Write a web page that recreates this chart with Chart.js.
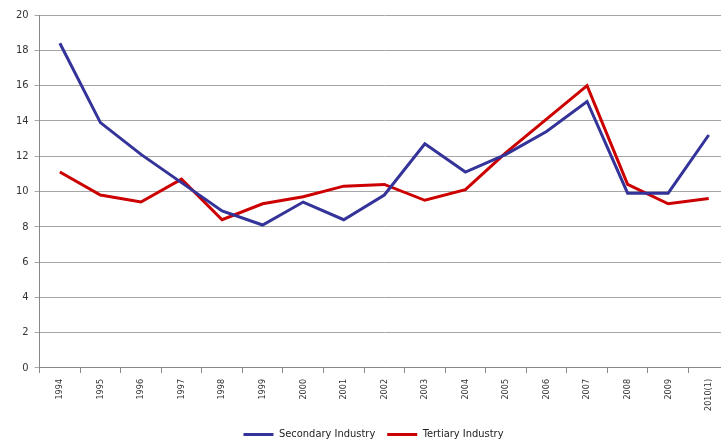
<!DOCTYPE html>
<html lang="en">
<head>
    <meta charset="UTF-8">
    <title>Secondary and Tertiary Industry</title>
    <style>
        body {
            margin: 0;
            padding: 0;
            background: #fff;
            overflow: hidden;
        }

        /* a bit wider than the window: the original is cut off on the right */
        #chartContainer {
            width: 729px;
            height: 443px;
        }
    </style>
</head>
<body>
    <div id="chartContainer">
        <canvas id="lineChart"></canvas>
    </div>

    <script src="https://cdn.jsdelivr.net/npm/chart.js"></script>
    <script>
        const years = ["1994", "1995", "1996", "1997", "1998", "1999", "2000", "2001", "2002",
            "2003", "2004", "2005", "2006", "2007", "2008", "2009", "2010(1)"];
        const secondaryIndustry = [18.4, 13.9, 12.1, 10.5, 8.9, 8.1, 9.4, 8.4, 9.8,
            12.7, 11.1, 12.1, 13.4, 15.1, 9.9, 9.9, 13.2];
        const tertiaryIndustry = [11.1, 9.8, 9.4, 10.7, 8.4, 9.3, 9.7, 10.3, 10.4,
            9.5, 10.1, 12.2, 14.1, 16.0, 10.4, 9.3, 9.6];

        // narrow look of the original
        const fontFamily = "'DejaVu Sans Condensed', 'Liberation Sans Narrow', sans-serif";

        const ctx = document.getElementById('lineChart').getContext('2d');
        new Chart(ctx, {
            type: 'line',
            data: {
                labels: years,
                datasets: [
                    {
                        label: 'Secondary Industry',
                        data: secondaryIndustry,
                        borderColor: '#333399',
                        backgroundColor: '#333399',
                        borderWidth: 3,
                        pointRadius: 0,
                        tension: 0
                    },
                    {
                        label: 'Tertiary Industry',
                        data: tertiaryIndustry,
                        borderColor: '#cc0000',
                        backgroundColor: '#cc0000',
                        borderWidth: 3,
                        pointRadius: 0,
                        tension: 0
                    }
                ]
            },
            options: {
                responsive: true,
                maintainAspectRatio: false,
                animation: false,
                layout: {
                    padding: { left: 10, right: -8, top: 15, bottom: -7 }
                },
                scales: {
                    x: {
                        offset: true,
                        grid: {
                            offset: true,
                            drawOnChartArea: false,
                            tickLength: 5,
                            color: '#888'
                        },
                        border: { color: '#888' },
                        ticks: {
                            minRotation: 90,
                            maxRotation: 90,
                            autoSkip: false,
                            padding: 6,
                            color: '#333',
                            font: { family: fontFamily, size: 9 }
                        }
                    },
                    y: {
                        min: 0,
                        max: 20,
                        ticks: {
                            stepSize: 2,
                            color: '#333',
                            padding: 6,
                            font: { family: fontFamily, size: 11 }
                        },
                        grid: {
                            color: '#a6a6a6',
                            tickLength: 5
                        },
                        border: { color: '#888' }
                    }
                },
                plugins: {
                    legend: {
                        position: 'bottom',
                        labels: {
                            usePointStyle: true,
                            pointStyle: 'line',
                            pointStyleWidth: 30,
                            boxHeight: 3,
                            padding: 12,
                            color: '#222',
                            font: { family: fontFamily, size: 11 }
                        }
                    },
                    tooltip: { enabled: false }
                }
            }
        });
    </script>
</body>
</html>
